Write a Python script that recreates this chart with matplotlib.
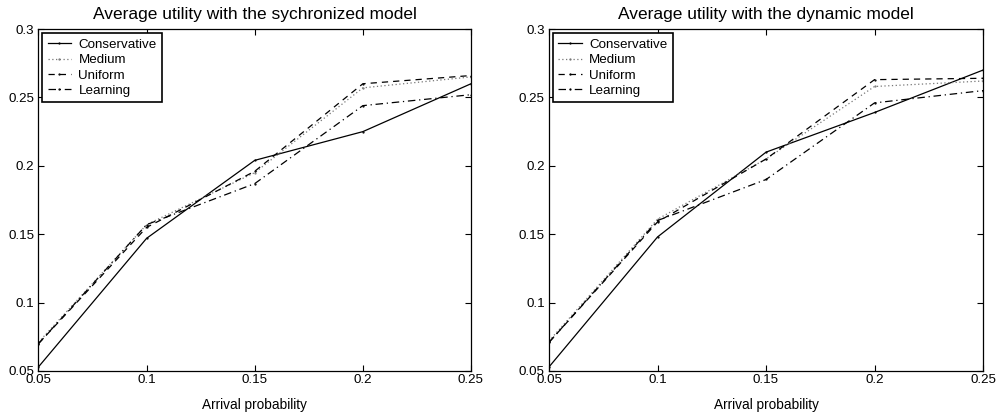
import matplotlib
matplotlib.use('Agg')
import matplotlib.pyplot as plt

plt.rcParams['font.family'] = ['Liberation Sans', 'DejaVu Sans']

arrival = [0.05, 0.1, 0.15, 0.2, 0.25]
x_ticklabels = ['0.05', '0.1', '0.15', '0.2', '0.25']
y_ticks = [0.05, 0.1, 0.15, 0.2, 0.25, 0.3]
y_ticklabels = ['0.05', '0.1', '0.15', '0.2', '0.25', '0.3']

# synchronized model
sync_conservative = [0.053, 0.147, 0.204, 0.225, 0.260]
sync_medium = [0.071, 0.157, 0.195, 0.257, 0.265]
sync_uniform = [0.070, 0.155, 0.196, 0.260, 0.266]
sync_learning = [0.070, 0.157, 0.187, 0.244, 0.252]

# dynamic model
dyn_conservative = [0.053, 0.148, 0.210, 0.239, 0.270]
dyn_medium = [0.072, 0.161, 0.205, 0.258, 0.262]
dyn_uniform = [0.071, 0.159, 0.205, 0.263, 0.264]
dyn_learning = [0.071, 0.160, 0.190, 0.246, 0.255]

labels = ['Conservative', 'Medium', 'Uniform', 'Learning']
styles = [
    dict(linestyle='-', color='black'),
    dict(linestyle=(0, (1, 2)), color='#777777'),
    dict(linestyle=(0, (5, 4)), color='black'),
    dict(linestyle=(0, (6, 3, 1, 3)), color='black'),
]

fig = plt.figure(figsize=(9.97, 4.16), dpi=100)
ax1 = fig.add_axes([0.0386, 0.1082, 0.4338, 0.822])
ax2 = fig.add_axes([0.5507, 0.1082, 0.4353, 0.822])

panels = [
    (ax1, [sync_conservative, sync_medium, sync_uniform, sync_learning],
     'Average utility with the sychronized model'),
    (ax2, [dyn_conservative, dyn_medium, dyn_uniform, dyn_learning],
     'Average utility with the dynamic model'),
]

for ax, series, title in panels:
    for vals, lab, st in zip(series, labels, styles):
        ax.plot(arrival, vals, label=lab, linewidth=0.9, marker='.', markersize=1.2, **st)
    ax.set_xlim(0.05, 0.25)
    ax.set_ylim(0.05, 0.3)
    ax.set_xticks(arrival)
    ax.set_xticklabels(x_ticklabels)
    ax.set_yticks(y_ticks)
    ax.set_yticklabels(y_ticklabels)
    ax.tick_params(direction='in', top=True, right=True, labelsize=9.6, length=4, width=0.8)
    ax.tick_params(axis='x', pad=2)
    ax.tick_params(axis='y', pad=3)
    for sp in ax.spines.values():
        sp.set_linewidth(0.9)
    ax.set_title(title, fontsize=12.5, pad=7)
    ax.set_xlabel('Arrival probability', fontsize=9.8, labelpad=9)
    leg = ax.legend(loc='upper left', bbox_to_anchor=(0.009, 0.988), fontsize=9.6,
                    fancybox=False, shadow=False, framealpha=1, edgecolor='black',
                    borderaxespad=0, handlelength=1.75, handletextpad=0.55,
                    borderpad=0.4, labelspacing=0.23)
    leg.get_frame().set_linewidth(1.2)

fig.savefig('out.png', dpi=100)
